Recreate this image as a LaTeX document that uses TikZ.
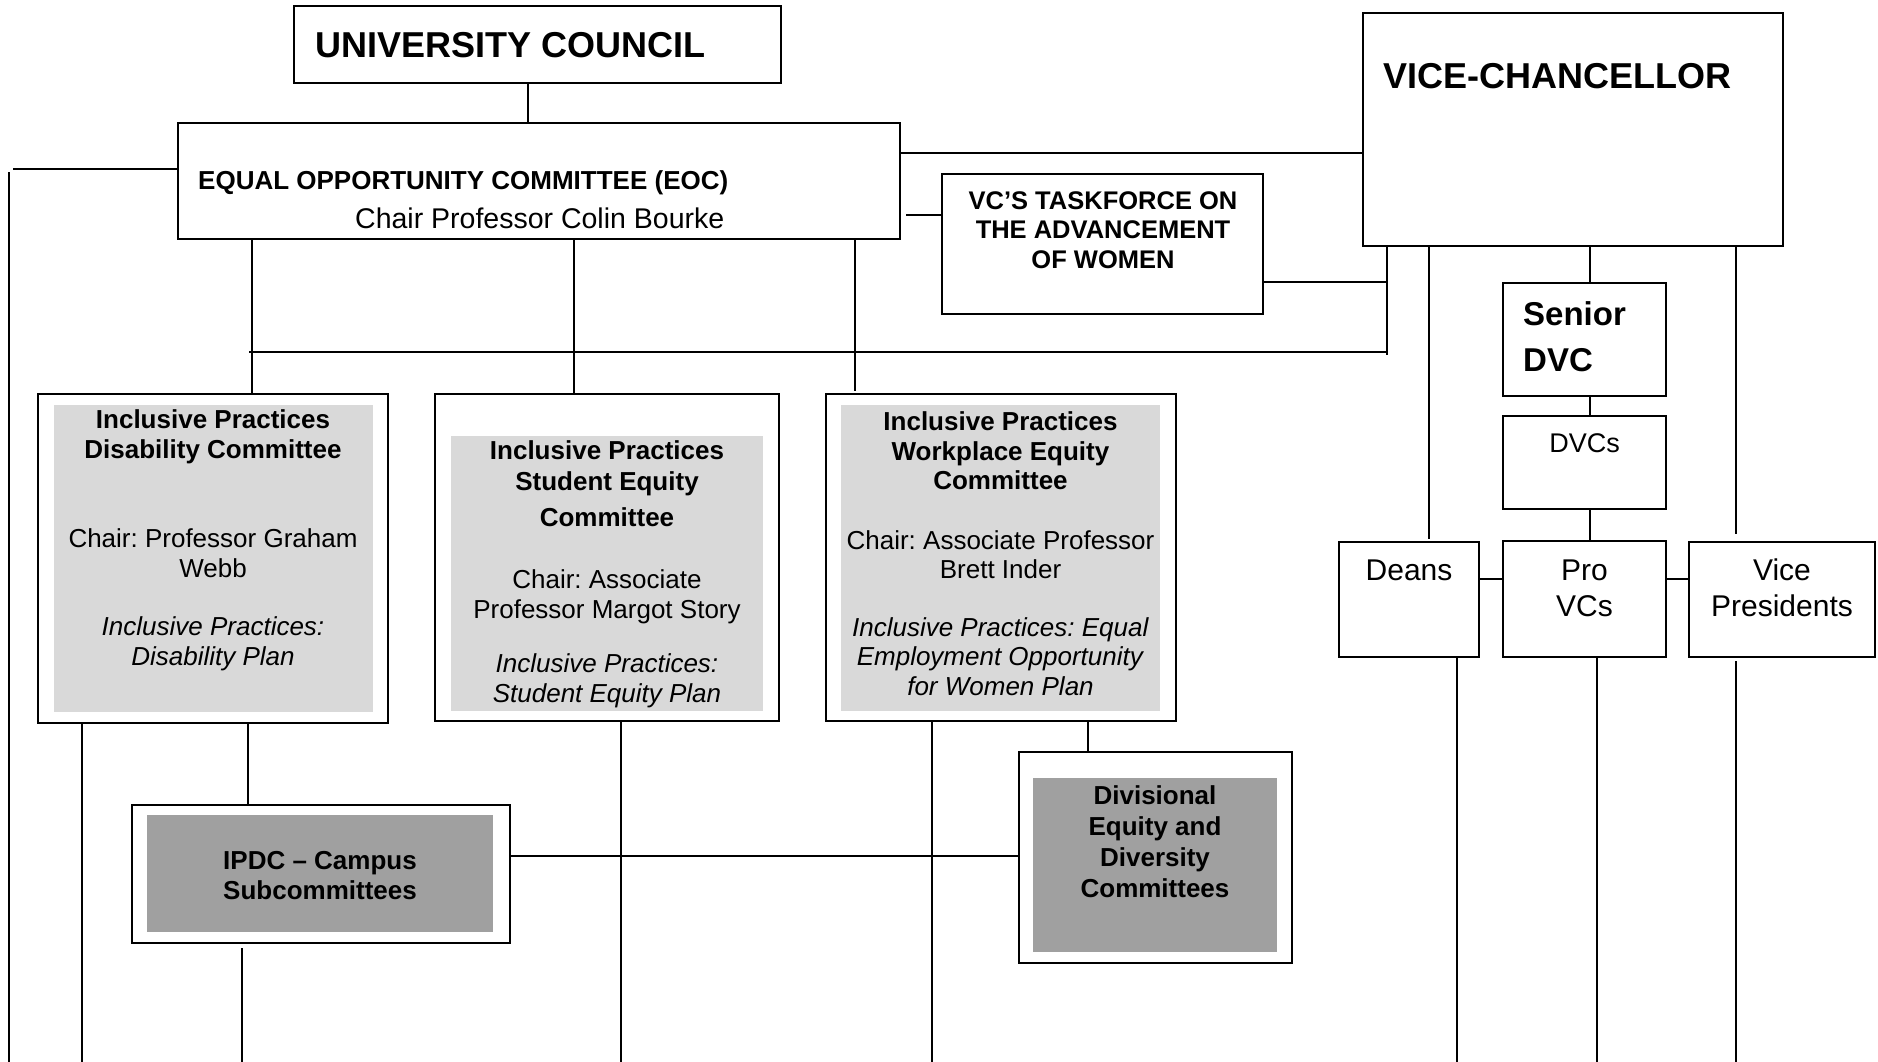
\documentclass[tikz,border=0pt]{standalone}
\usepackage{fontspec}
\setmainfont{Liberation Sans}
\usetikzlibrary{calc}
\definecolor{lightfill}{RGB}{217,217,217}
\definecolor{darkfill}{RGB}{160,160,160}
\newcommand{\fsz}[2]{\fontsize{#1}{#2}\selectfont}
\frenchspacing

\begin{document}
\begin{tikzpicture}[x=1pt,y=-1pt,
    box/.style={draw=black,line width=2.3pt,fill=white,inner sep=0pt},
    shade/.style={fill=#1,inner sep=0pt},
    link/.style={line width=1.3pt},
    txt/.style={inner sep=0pt,align=center,anchor=base}]
\useasboundingbox (0,0) rectangle (1878,1062);
\coordinate (bottom) at (0,1062);
% top level
\node[box,minimum width=487,minimum height=77] (uc) at (537.5,44.5) {};
\node[box,minimum width=722,minimum height=116] (eoc) at (539,181) {};
\node[box,minimum width=420,minimum height=233] (vc) at (1573,129.5) {};
\node[box,minimum width=321,minimum height=140] (task) at (1102.5,244) {};
% right branch
\node[box,minimum width=163,minimum height=113] (sdvc) at (1584.5,339.5) {};
\node[box,minimum width=163,minimum height=93] (dvcs) at (1584.5,462.5) {};
\node[box,minimum width=140,minimum height=115] (deans) at (1409,599.5) {};
\node[box,minimum width=163,minimum height=116] (pvc) at (1584.5,599) {};
\node[box,minimum width=186,minimum height=115] (vp) at (1782,599.5) {};
% committees
\node[box,minimum width=350,minimum height=329] (dis) at (213,558.5) {};
\node[shade=lightfill,minimum width=319,minimum height=307] (disS) at (213.5,558.5) {};
\node[box,minimum width=344,minimum height=327] (stu) at (607,557.5) {};
\node[shade=lightfill,minimum width=312,minimum height=275] (stuS) at (607,573.5) {};
\node[box,minimum width=350,minimum height=327] (wpe) at (1001,557.5) {};
\node[shade=lightfill,minimum width=319,minimum height=306] (wpeS) at (1000.5,558) {};
\node[box,minimum width=378,minimum height=138] (ipdc) at (321,874) {};
\node[shade=darkfill,minimum width=346,minimum height=117] (ipdcS) at (320,873.5) {};
\node[box,minimum width=273,minimum height=211] (div) at (1155.5,857.5) {};
\node[shade=darkfill,minimum width=244,minimum height=174] (divS) at (1155,865) {};

% texts (multi-line nodes sit on their last baseline)
\node[txt,anchor=base west,font=\fsz{36}{40}\bfseries] (ucT) at (315,58) {UNIVERSITY COUNCIL};
\node[txt,anchor=base west,font=\fsz{26}{30}\bfseries] (eocT) at (198,189) {EQUAL OPPORTUNITY COMMITTEE (EOC)};
\node[txt,anchor=base west,font=\fsz{28.5}{30}] (eocC) at (355,228) {Chair Professor Colin Bourke};
\node[txt,anchor=base west,font=\fsz{36}{40}\bfseries] (vcT) at (1383,89) {VICE-CHANCELLOR};
\node[txt,font=\fsz{25.5}{29.5}\bfseries] (taskT) at (1103,268) {VC’S TASKFORCE ON\\THE ADVANCEMENT\\OF WOMEN};
\node[txt,align=left,anchor=base west,font=\fsz{33}{46}\bfseries] (sdvcT) at (1523,371) {Senior\\DVC};
\node[txt,font=\fsz{27}{30}] (dvcsT) at (1584.5,452) {DVCs};
\node[txt,font=\fsz{30}{34}] (deansT) at (1409,580) {Deans};
\node[txt,font=\fsz{30}{36}] (pvcT) at (1584.5,616) {Pro\\VCs};
\node[txt,font=\fsz{30}{36}] (vpT) at (1782,616) {Vice\\Presidents};
\node[txt,font=\fsz{26}{30}] (disT) at (213,665) {\textbf{Inclusive Practices}\\\textbf{Disability Committee}\\[59pt]
  Chair: Professor Graham\\Webb\\[28pt]\textit{Inclusive Practices:}\\\textit{Disability Plan}};
\node[txt,font=\fsz{26}{30}] (stuT) at (607,702) {\textbf{Inclusive Practices}\\[1pt]\textbf{Student Equity}\\[6pt]\textbf{Committee}\\[32pt]
  Chair: Associate\\Professor Margot Story\\[24pt]\textit{Inclusive Practices:}\\\textit{Student Equity Plan}};
\node[txt,font=\fsz{26}{29.5}] (wpeT) at (1000.5,695) {\textbf{Inclusive Practices}\\\textbf{Workplace Equity}\\\textbf{Committee}\\[30pt]
  Chair: Associate Professor\\Brett Inder\\[28pt]\textit{Inclusive Practices: Equal}\\\textit{Employment Opportunity}\\\textit{for Women Plan}};
\node[txt,font=\fsz{26}{30}\bfseries] (ipdcT) at (320,899) {IPDC – Campus\\Subcommittees};
\node[txt,font=\fsz{26}{31}\bfseries] (divT) at (1155,897) {Divisional\\Equity and\\Diversity\\Committees};

% connectors
\draw[link] (uc.south -| 528,0) -- (eoc.north -| 528,0);
\draw[link] (eoc.west |- 0,169) -- (13,169);
\draw[link] (9,172) -- (9,0 |- bottom);
\draw[link] (eoc.east |- 0,153) -- (vc.west |- 0,153);
\draw[link] ($(eoc.east |- 0,215)+(5,0)$) -- (task.west |- 0,215);
\draw[link] (task.east |- 0,282) -- (1388,282);
\draw[link] (vc.south -| 1387,0) -- (1387,355);
\draw[link] (249,352) -- (1387,352);
\draw[link] (eoc.south -| 252,0) -- (dis.north -| 252,0);
\draw[link] (eoc.south -| 574,0) -- (stu.north -| 574,0);
\draw[link] (eoc.south -| 855,0) -- (855,391);
\draw[link] (vc.south -| 1429,0) -- (1429,539);
\draw[link] (vc.south -| 1590,0) -- (sdvc.north -| 1590,0);
\draw[link] (vc.south -| 1736,0) -- (1736,534);
\draw[link] (sdvc.south -| 1590,0) -- (dvcs.north -| 1590,0);
\draw[link] (dvcs.south -| 1590,0) -- (pvc.north -| 1590,0);
\draw[link] (deans.east |- 0,579) -- (pvc.west |- 0,579);
\draw[link] (pvc.east |- 0,579) -- (vp.west |- 0,579);
\draw[link] (deans.south -| 1457,0) -- (1457,0 |- bottom);
\draw[link] (pvc.south -| 1597,0) -- (1597,0 |- bottom);
\draw[link] (1736,661) -- (1736,0 |- bottom);
\draw[link] (dis.south -| 82,0) -- (82,0 |- bottom);
\draw[link] (dis.south -| 248,0) -- (ipdc.north -| 248,0);
\draw[link] (stu.south -| 621,0) -- (621,0 |- bottom);
\draw[link] (wpe.south -| 932,0) -- (932,0 |- bottom);
\draw[link] (wpe.south -| 1088,0) -- (div.north -| 1088,0);
\draw[link] (ipdc.east |- 0,856) -- (div.west |- 0,856);
\draw[link] (242,948) -- (242,0 |- bottom);
\end{tikzpicture}
\end{document}
